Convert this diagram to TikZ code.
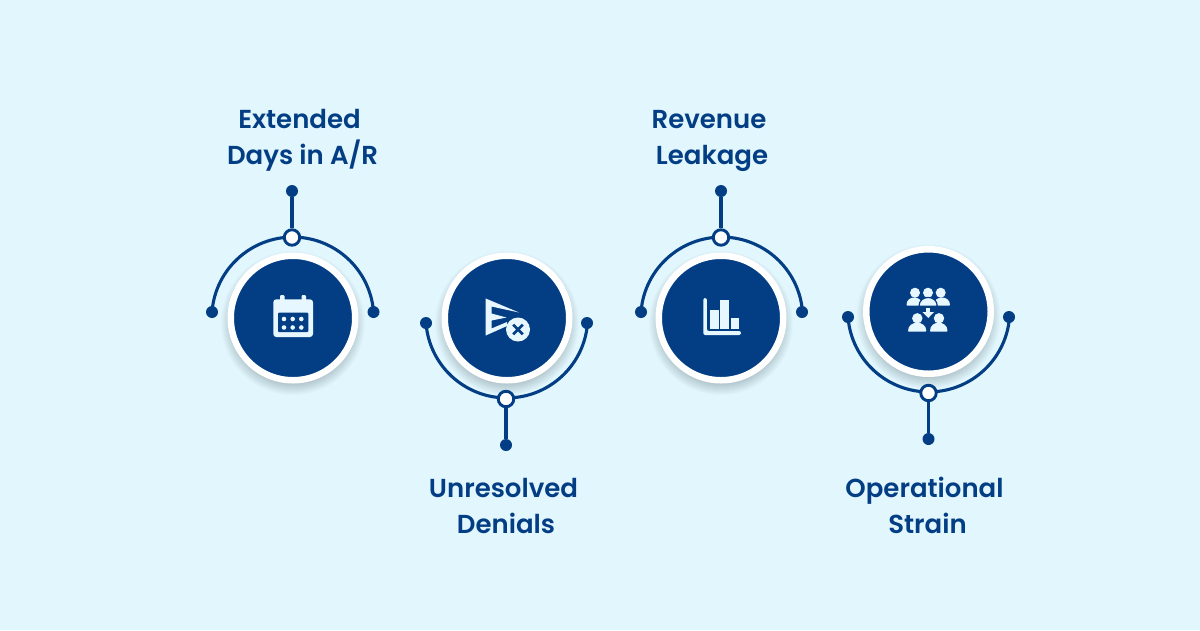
\documentclass[tikz,border=0pt]{standalone}
\usepackage{fontspec}
\setmainfont{Poppins SemiBold}
\definecolor{bgc}{HTML}{E1F6FD}
\definecolor{navy}{HTML}{033E85}
\definecolor{pale}{HTML}{E6F7FF}
\tikzset{
  x=1pt,y=-1pt,
  lbl/.style={font=\fontsize{26}{36}\selectfont,text=navy,inner sep=0pt,anchor=base},
  enddot/.style={circle,fill=navy,inner sep=0pt,minimum size=12pt},
  ringdot/.style={circle,draw=navy,line width=2.9pt,fill=white,inner sep=0pt,minimum size=15.5pt},
  conn/.style={draw=navy,line width=3.1pt},
  badge/.style={circle,fill=navy,draw=white,line width=6.5pt,inner sep=0pt,minimum size=124.5pt},
  ico/.style={fill=pale,draw=none},
}
\newcommand{\softshadow}[2]{%
  \foreach \r in {72,71,...,60}{\fill[black,opacity=0.016] (#1,#2+5) circle[radius=\r pt];}%
}
\newcommand{\personbody}[4]{\fill[ico,rounded corners=0.8pt] (#1,#4) .. controls (#1,#3) and (#2,#3) .. (#2,#4) -- cycle;}
\begin{document}
\begin{tikzpicture}
\useasboundingbox (0,0) rectangle (1200,630);
\fill[bgc] (0,0) rectangle (1200,630);
% --- 1
\softshadow{293}{318}
\node[enddot] (a1l) at (212,312) {};
\node[enddot] (a1r) at (373.5,312) {};
\node[enddot] (a1t) at (292,191) {};
\draw[conn] (a1l.center) arc[start angle=175.7,end angle=4.3,radius=81pt];
\node[ringdot] (a1c) at (292,237.5) {};
\draw[conn] (a1t) -- (a1c);
\node[badge] (b1) at (293,318) {};
\node[lbl] (t1a) at (299.5,128) {Extended};
\node[lbl] (t1b) at (302.5,164) {Days in A/R};
% --- 2
\softshadow{507}{318}
\node[enddot] (a2l) at (426,323) {};
\node[enddot] (a2r) at (587,323) {};
\node[enddot] (a2b) at (506,445) {};
\draw[conn] (a2l.center) arc[start angle=184.3,end angle=355.7,radius=81pt];
\node[ringdot] (a2c) at (506,399) {};
\draw[conn] (a2b) -- (a2c);
\node[badge] (b2) at (507,318) {};
\node[lbl] (t2a) at (503.5,497) {Unresolved};
\node[lbl] (t2b) at (506,533) {Denials};
% --- 3
\softshadow{721}{318}
\node[enddot] (a3l) at (641,312) {};
\node[enddot] (a3r) at (802,312) {};
\node[enddot] (a3t) at (721,191) {};
\draw[conn] (a3l.center) arc[start angle=175.7,end angle=4.3,radius=81pt];
\node[ringdot] (a3c) at (721,237.5) {};
\draw[conn] (a3t) -- (a3c);
\node[badge] (b3) at (721,318) {};
\node[lbl] (t3a) at (709,128) {Revenue};
\node[lbl] (t3b) at (712,164) {Leakage};
% --- 4
\softshadow{928.5}{311.5}
\node[enddot] (a4l) at (848,317) {};
\node[enddot] (a4r) at (1009,317) {};
\node[enddot] (a4b) at (928.5,439) {};
\draw[conn] (a4l.center) arc[start angle=184.3,end angle=355.7,radius=81pt];
\node[ringdot] (a4c) at (928.5,393) {};
\draw[conn] (a4b) -- (a4c);
\node[badge] (b4) at (928.5,311.5) {};
\node[lbl] (t4a) at (924.5,497) {Operational};
\node[lbl] (t4b) at (927.5,533) {Strain};
% calendar icon
\fill[ico,rounded corners=3pt] (273.3,299.3) rectangle (313,337);
\fill[ico,rounded corners=1pt] (280,295) rectangle (284.5,302);
\fill[ico,rounded corners=1pt] (301.5,295) rectangle (306,302);
\fill[navy,rounded corners=1pt] (278,312.7) rectangle (308.3,332);
\foreach \px in {284,292.7,301.3}\foreach \py in {319,327.5}{\fill[ico] (\px,\py) circle[radius=2.3pt];}
% denied icon
\fill[ico] (485.7,298.5) -- (519,312.5) -- (491.5,306.5) -- (491.5,313.5) -- (506.5,317.5) -- (491.5,320.5) -- (491.5,328.5) -- (507,322) -- (507,326) -- (485.7,335.5) -- cycle;
\fill[ico] (518,329.5) circle[radius=12pt];
\draw[navy,line width=2.8pt] (513.2,324.7) -- (522.8,334.3) (522.8,324.7) -- (513.2,334.3);
% bars icon
\fill[ico,rounded corners=2pt] (703.3,298) -- (706.9,298) -- (706.9,331) -- (741,331) -- (741,335) -- (703.3,335) -- cycle;
\fill[ico] (710,310) rectangle (718.5,329.3);
\fill[ico] (720,300) rectangle (728.9,329.3);
\fill[ico] (730.5,318.3) rectangle (739.2,329.3);
% people icon
\fill[ico] (915,292.7) circle[radius=5pt];
\fill[ico] (928,292.7) circle[radius=5pt];
\fill[ico] (940.7,292.7) circle[radius=5pt];
\personbody{906.5}{922}{295}{305.7}
\personbody{934}{950}{295}{305.7}
\fill[ico,draw=navy,line width=1.2pt] (919,306.3) .. controls (919,294.5) and (937.3,294.5) .. (937.3,306.3) -- cycle;
\fill[navy] (905,305.7) rectangle (952,308);
\fill[ico] (926.4,307.5) rectangle (930.2,314);
\fill[ico] (922.5,312) -- (934,312) -- (928.3,318) -- cycle;
\fill[ico] (917.3,318.3) circle[radius=5.2pt];
\fill[ico] (939,318.3) circle[radius=5.2pt];
\personbody{908}{926.3}{320}{331.7}
\personbody{930}{947.5}{320}{331.7}
\end{tikzpicture}
\end{document}
